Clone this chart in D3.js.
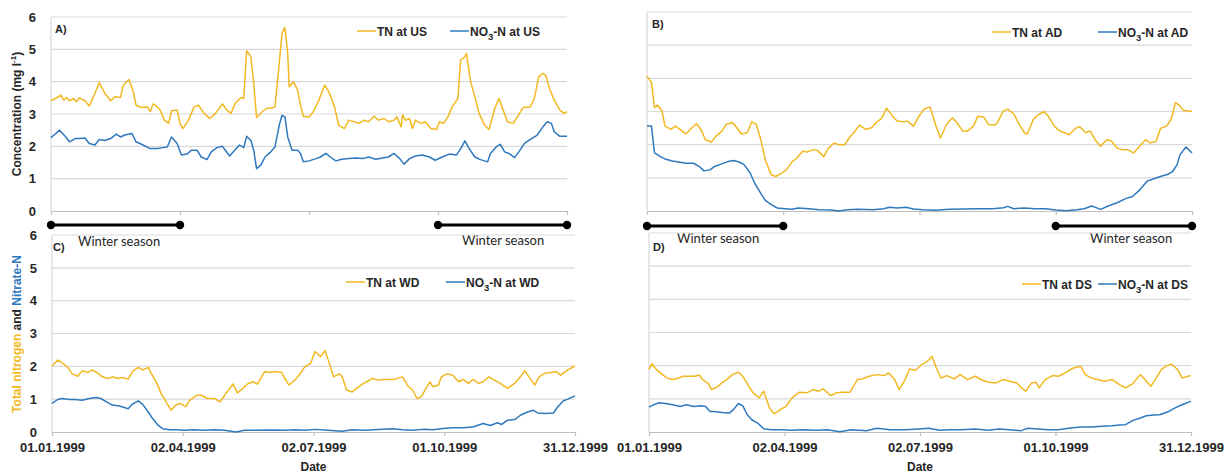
<!DOCTYPE html>
<html>
<head>
<meta charset="utf-8">
<script src="https://cdn.jsdelivr.net/npm/d3@7"></script>
<style>
  body { margin: 0; background: #fff; }
  svg { display: block; font-family: "Liberation Sans", Arial, sans-serif; }
</style>
</head>
<body>
<svg id="chart" width="1229" height="475"></svg>
<script>
// ---- data: daily nitrogen concentrations in 1999, [day of year offset, mg/l] ----
const yearStart = "01.01.1999";
const tickDates = ["01.01.1999", "02.04.1999", "02.07.1999", "01.10.1999", "31.12.1999"];
const yTicks = [0, 1, 2, 3, 4, 5, 6];
const winterSpans = [["01.01.1999", "02.04.1999"], ["01.10.1999", "31.12.1999"]];
const sites = ["US", "AD", "WD", "DS"];
const panelLetters = ["A)", "B)", "C)", "D)"];

const tnUS = [[0,3.41],[3,3.48],[7,3.58],[9,3.43],[11,3.51],[13,3.41],[16,3.48],[18,3.38],[20,3.50],[24,3.41],[27,3.25],[31,3.64],[34,3.97],[38,3.64],[42,3.41],[45,3.53],[49,3.51],[51,3.89],[55,4.07],[58,3.69],[60,3.27],[64,3.20],[68,3.22],[70,3.07],[72,3.31],[75,3.22],[77,3.12],[80,2.81],[83,2.71],[85,3.10],[89,3.12],[91,2.71],[93,2.55],[97,2.81],[101,3.22],[104,3.27],[108,3.02],[112,2.86],[116,3.02],[121,3.31],[124,3.12],[127,3.02],[130,3.33],[134,3.51],[136,3.48],[138,4.96],[141,4.77],[143,3.95],[145,2.89],[149,3.07],[152,3.17],[156,3.19],[158,3.22],[161,4.57],[163,5.50],[165,5.68],[167,4.87],[168,3.84],[171,4.00],[174,3.74],[176,3.27],[178,2.93],[182,2.91],[185,3.07],[189,3.43],[193,3.89],[196,3.69],[200,3.22],[203,2.65],[207,2.55],[210,2.81],[214,2.76],[217,2.71],[221,2.81],[224,2.76],[228,2.93],[231,2.81],[235,2.86],[238,2.76],[242,2.81],[244,2.91],[247,2.60],[248,2.97],[250,2.81],[253,2.86],[255,2.55],[257,2.81],[261,2.71],[264,2.76],[268,2.55],[272,2.52],[274,2.76],[277,2.71],[280,2.91],[283,3.22],[287,3.48],[289,4.67],[292,4.77],[293,4.88],[296,4.00],[299,3.53],[302,3.02],[306,2.65],[309,2.52],[313,3.17],[316,3.48],[319,3.12],[322,2.76],[326,2.71],[329,2.91],[333,3.20],[338,3.22],[341,3.48],[344,4.15],[347,4.26],[349,4.20],[352,3.74],[355,3.43],[359,3.12],[362,3.02],[364,3.07]];
const no3US = [[0,2.27],[3,2.38],[6,2.50],[10,2.31],[13,2.14],[17,2.24],[20,2.24],[24,2.26],[27,2.09],[31,2.04],[34,2.21],[38,2.18],[42,2.24],[46,2.38],[49,2.29],[52,2.35],[57,2.40],[60,2.14],[65,2.04],[70,1.93],[75,1.93],[79,1.96],[82,1.98],[85,2.29],[89,2.09],[92,1.73],[96,1.76],[99,1.88],[103,1.88],[106,1.67],[110,1.59],[113,1.83],[117,1.96],[121,2.00],[123,1.88],[126,1.70],[130,1.90],[133,2.04],[136,1.96],[138,2.31],[141,2.18],[143,1.88],[145,1.31],[148,1.42],[151,1.67],[155,1.83],[158,1.98],[161,2.65],[163,2.96],[165,2.91],[167,2.29],[170,1.88],[174,1.88],[176,1.78],[178,1.52],[182,1.55],[187,1.62],[190,1.67],[194,1.78],[197,1.67],[201,1.55],[205,1.60],[210,1.62],[215,1.64],[220,1.62],[224,1.67],[229,1.60],[234,1.64],[238,1.67],[242,1.78],[246,1.62],[249,1.45],[253,1.62],[257,1.70],[262,1.73],[267,1.67],[271,1.57],[276,1.67],[281,1.76],[286,1.73],[289,1.93],[292,2.17],[295,1.93],[299,1.67],[303,1.59],[308,1.52],[310,1.78],[314,1.98],[317,2.06],[320,1.83],[323,1.78],[327,1.65],[330,1.83],[334,2.09],[339,2.24],[343,2.35],[347,2.60],[350,2.76],[353,2.71],[355,2.45],[359,2.31],[364,2.31]];

const tnAD = [[0,4.06],[3,3.88],[5,3.12],[7,3.19],[10,3.02],[12,2.56],[16,2.46],[19,2.56],[23,2.43],[26,2.32],[30,2.51],[33,2.63],[36,2.46],[39,2.15],[43,2.08],[46,2.25],[50,2.41],[53,2.61],[57,2.67],[60,2.51],[63,2.32],[67,2.36],[70,2.69],[73,2.61],[76,2.15],[79,1.54],[83,1.09],[86,1.04],[90,1.14],[93,1.24],[97,1.49],[100,1.59],[104,1.80],[107,1.78],[111,1.85],[114,1.82],[118,1.64],[121,1.88],[125,2.05],[128,2.00],[132,2.00],[135,2.20],[139,2.41],[142,2.59],[146,2.46],[150,2.51],[153,2.66],[157,2.81],[160,3.10],[164,2.86],[167,2.71],[171,2.69],[174,2.71],[178,2.56],[181,2.81],[185,3.07],[189,3.14],[193,2.56],[196,2.20],[200,2.61],[204,2.81],[207,2.66],[211,2.41],[214,2.41],[218,2.56],[221,2.86],[225,2.83],[228,2.61],[232,2.59],[234,2.66],[238,3.02],[241,3.07],[245,2.93],[248,2.66],[252,2.36],[254,2.32],[258,2.76],[261,2.89],[265,3.00],[268,2.86],[272,2.56],[275,2.43],[279,2.36],[282,2.30],[286,2.49],[289,2.54],[293,2.36],[296,2.41],[300,2.10],[303,1.95],[307,2.15],[310,2.12],[314,1.90],[317,1.85],[321,1.85],[325,1.75],[329,1.95],[333,2.15],[336,2.05],[340,2.10],[343,2.49],[347,2.56],[350,2.76],[353,3.27],[356,3.17],[358,3.04],[364,3.00]];
const no3AD = [[0,2.56],[3,2.56],[5,1.75],[9,1.64],[12,1.57],[17,1.51],[22,1.47],[26,1.44],[31,1.44],[35,1.34],[38,1.21],[42,1.24],[45,1.34],[50,1.42],[54,1.49],[58,1.52],[62,1.47],[65,1.39],[69,1.14],[72,0.83],[76,0.53],[79,0.32],[83,0.19],[87,0.09],[92,0.07],[97,0.05],[101,0.09],[108,0.07],[115,0.04],[123,0.03],[128,0.00],[134,0.04],[141,0.05],[151,0.04],[158,0.07],[162,0.11],[167,0.09],[173,0.11],[178,0.06],[184,0.04],[193,0.02],[202,0.05],[212,0.06],[221,0.07],[231,0.07],[238,0.10],[241,0.14],[245,0.07],[252,0.09],[259,0.07],[266,0.07],[273,0.03],[280,0.01],[287,0.04],[292,0.07],[297,0.15],[303,0.05],[308,0.15],[314,0.25],[320,0.38],[324,0.43],[329,0.63],[334,0.90],[339,0.98],[343,1.04],[348,1.11],[351,1.19],[354,1.39],[356,1.70],[360,1.93],[364,1.75]];

const tnWD = [[0,2.01],[4,2.19],[7,2.11],[11,1.97],[14,1.77],[18,1.70],[21,1.87],[25,1.81],[28,1.89],[32,1.79],[35,1.68],[39,1.63],[42,1.68],[46,1.63],[49,1.66],[53,1.61],[56,1.84],[60,1.97],[63,1.89],[67,1.97],[69,1.79],[73,1.48],[76,1.17],[80,0.87],[83,0.66],[86,0.82],[89,0.87],[93,0.77],[96,0.97],[101,1.12],[104,1.12],[108,1.02],[113,1.02],[117,0.92],[121,1.17],[126,1.46],[129,1.19],[133,1.33],[136,1.46],[140,1.53],[143,1.46],[148,1.84],[151,1.81],[155,1.84],[160,1.81],[162,1.63],[165,1.43],[169,1.58],[173,1.79],[176,1.99],[180,2.09],[183,2.45],[187,2.30],[190,2.48],[193,2.09],[196,1.68],[200,1.77],[202,1.68],[205,1.28],[209,1.22],[212,1.33],[216,1.46],[219,1.53],[223,1.63],[227,1.58],[230,1.60],[235,1.60],[239,1.61],[244,1.68],[248,1.38],[251,1.28],[254,1.02],[257,1.07],[261,1.38],[263,1.53],[265,1.38],[269,1.43],[271,1.68],[275,1.77],[279,1.73],[283,1.53],[286,1.60],[290,1.48],[293,1.60],[297,1.48],[300,1.53],[304,1.68],[308,1.58],[312,1.48],[317,1.33],[322,1.48],[326,1.68],[329,1.87],[332,1.68],[336,1.43],[339,1.68],[343,1.79],[347,1.81],[351,1.84],[354,1.73],[359,1.89],[364,2.01]];
const no3WD = [[0,0.87],[4,0.99],[7,1.02],[12,0.99],[16,0.99],[21,0.97],[26,1.02],[31,1.05],[34,1.02],[38,0.92],[42,0.82],[47,0.79],[53,0.71],[56,0.85],[60,0.95],[63,0.85],[67,0.61],[70,0.41],[74,0.20],[77,0.10],[82,0.07],[87,0.07],[92,0.05],[99,0.07],[106,0.05],[113,0.07],[120,0.05],[128,0.00],[134,0.05],[143,0.05],[153,0.06],[162,0.05],[169,0.07],[176,0.05],[183,0.08],[192,0.05],[202,0.02],[209,0.07],[218,0.05],[230,0.08],[237,0.10],[244,0.07],[251,0.05],[258,0.08],[265,0.07],[272,0.11],[279,0.13],[286,0.13],[293,0.15],[300,0.26],[305,0.20],[310,0.28],[313,0.23],[317,0.36],[322,0.38],[326,0.51],[331,0.61],[335,0.66],[338,0.58],[343,0.56],[349,0.58],[352,0.77],[356,0.95],[359,1.00],[364,1.10]];

const tnDS = [[0,1.88],[2,2.06],[5,1.88],[9,1.73],[12,1.63],[16,1.58],[20,1.63],[23,1.68],[27,1.68],[30,1.68],[34,1.71],[36,1.58],[40,1.46],[42,1.28],[46,1.36],[49,1.48],[53,1.61],[56,1.73],[60,1.80],[63,1.68],[67,1.38],[70,1.18],[74,1.03],[77,1.23],[81,0.72],[84,0.55],[88,0.67],[92,0.77],[96,1.03],[101,1.20],[106,1.18],[110,1.28],[114,1.23],[117,1.30],[122,1.10],[126,1.18],[130,1.20],[135,1.20],[140,1.58],[143,1.60],[148,1.68],[153,1.73],[158,1.70],[161,1.78],[165,1.58],[168,1.28],[172,1.58],[175,1.90],[179,1.86],[183,2.03],[187,2.13],[190,2.28],[193,1.93],[196,1.63],[200,1.70],[205,1.60],[209,1.73],[214,1.58],[219,1.68],[224,1.56],[228,1.50],[233,1.48],[238,1.58],[242,1.53],[247,1.48],[251,1.30],[253,1.23],[257,1.48],[260,1.50],[262,1.33],[266,1.58],[271,1.70],[275,1.68],[280,1.80],[285,1.93],[290,1.98],[293,1.73],[297,1.63],[301,1.58],[306,1.53],[311,1.58],[316,1.43],[320,1.33],[325,1.46],[330,1.73],[333,1.58],[337,1.38],[340,1.58],[344,1.88],[347,1.98],[351,2.05],[355,1.88],[358,1.63],[362,1.68],[364,1.70]];
const no3DS = [[0,0.75],[3,0.82],[7,0.88],[11,0.86],[16,0.82],[21,0.77],[25,0.82],[30,0.77],[35,0.79],[38,0.77],[41,0.62],[44,0.62],[49,0.59],[54,0.57],[57,0.69],[60,0.86],[63,0.79],[66,0.52],[69,0.37],[73,0.27],[77,0.10],[82,0.07],[89,0.07],[96,0.05],[103,0.07],[113,0.05],[120,0.07],[128,0.01],[136,0.07],[146,0.04],[153,0.11],[162,0.07],[172,0.07],[181,0.09],[188,0.11],[195,0.05],[202,0.07],[209,0.07],[219,0.09],[228,0.05],[235,0.09],[242,0.07],[250,0.04],[254,0.11],[261,0.09],[268,0.07],[275,0.07],[283,0.12],[290,0.15],[297,0.15],[304,0.17],[311,0.19],[316,0.21],[320,0.22],[325,0.35],[330,0.42],[334,0.49],[339,0.51],[343,0.52],[349,0.62],[353,0.72],[358,0.82],[364,0.93]];

// ---- styling and layout ----
const TN_COLOR = "#F2B822";
const NO3_COLOR = "#2E78BE";
const GRID = "#d9d9d9";
const AXIS = "#bfbfbf";
const TEXT = "#262626";
const BOLD_FONT = "'Liberation Sans', Arial, sans-serif";
const PLAIN_FONT = "Lato, 'Liberation Sans', sans-serif";

const parseDay = d3.timeParse("%d.%m.%Y");
const fmtDay = d3.timeFormat("%d.%m.%Y");
const start = parseDay(yearStart);

const panels = [
  { tn: tnUS, no3: no3US, x0: 51,  x1: 567,  yTop: 17,  yBot: 211, leftLabels: true,  dateLabels: false,
    legend: { tn: 357, no3: 450, y: 31 }, letter: [55, 33], winter: { y: 225, text: [[78, 246], [462, 245]] } },
  { tn: tnAD, no3: no3AD, x0: 647, x1: 1192, yTop: 12,  yBot: 211, leftLabels: false, dateLabels: false,
    legend: { tn: 992, no3: 1098, y: 32 }, letter: [652, 28], winter: { y: 226, text: [[677, 243], [1090, 243]] } },
  { tn: tnWD, no3: no3WD, x0: 52,  x1: 575,  yTop: 235, yBot: 432, leftLabels: true,  dateLabels: true,
    legend: { tn: 346, no3: 446, y: 282 }, letter: [53, 251] },
  { tn: tnDS, no3: no3DS, x0: 649, x1: 1191, yTop: 233, yBot: 432, leftLabels: false, dateLabels: true,
    legend: { tn: 1022, no3: 1098, y: 284 }, letter: [653, 251] }
];

const svg = d3.select("#chart");
svg.append("rect").attr("width", 1229).attr("height", 475).attr("fill", "#fff");

panels.forEach((p, i) => {
  const site = sites[i];
  const x = d3.scaleTime().domain([parseDay(tickDates[0]), parseDay(tickDates[tickDates.length - 1])]).range([p.x0, p.x1]);
  const y = d3.scaleLinear().domain([0, 6]).range([p.yBot, p.yTop]);
  const g = svg.append("g");

  // horizontal gridlines
  g.selectAll("line.grid").data(yTicks.filter(v => v > 0)).join("line")
    .attr("x1", p.x0).attr("x2", p.x1)
    .attr("y1", d => y(d)).attr("y2", d => y(d))
    .attr("stroke", GRID).attr("stroke-width", 1.2);
  // vertical axis line
  g.append("line").attr("x1", p.x0).attr("x2", p.x0).attr("y1", p.yTop).attr("y2", p.yBot)
    .attr("stroke", GRID).attr("stroke-width", 1.2);

  // x axis with quarter ticks
  const xAxis = d3.axisBottom(x)
    .tickValues(tickDates.map(parseDay))
    .tickSize(4).tickSizeOuter(0).tickPadding(7)
    .tickFormat(p.dateLabels ? fmtDay : () => "");
  const ax = g.append("g").attr("transform", `translate(0,${p.yBot})`).call(xAxis);
  ax.select(".domain").attr("stroke", AXIS).attr("stroke-width", 1.2);
  ax.selectAll(".tick line").attr("stroke", AXIS).attr("stroke-width", 1.2);
  ax.selectAll(".tick text").attr("fill", TEXT).attr("font-size", 13).attr("font-weight", 700)
    .attr("font-family", BOLD_FONT);

  // y axis numbers
  if (p.leftLabels) {
    const yAxis = d3.axisLeft(y).tickValues(yTicks).tickSize(0).tickPadding(15).tickFormat(d3.format("d"));
    const ay = g.append("g").attr("transform", `translate(${p.x0},0)`).call(yAxis);
    ay.select(".domain").remove();
    ay.selectAll(".tick text").attr("fill", TEXT).attr("font-size", 13).attr("font-weight", 700)
      .attr("font-family", BOLD_FONT);
  }

  // series
  const line = d3.line()
    .x(d => x(d3.timeDay.offset(start, d[0])))
    .y(d => y(d[1]));
  g.append("path").datum(p.tn).attr("d", line).attr("fill", "none")
    .attr("stroke", TN_COLOR).attr("stroke-width", 1.5).attr("stroke-linejoin", "round");
  g.append("path").datum(p.no3).attr("d", line).attr("fill", "none")
    .attr("stroke", NO3_COLOR).attr("stroke-width", 1.5).attr("stroke-linejoin", "round");

  // panel letter
  g.append("text").attr("x", p.letter[0]).attr("y", p.letter[1]).attr("font-family", BOLD_FONT)
    .attr("font-size", 11).attr("font-weight", 700).attr("fill", TEXT).text(panelLetters[i]);

  // legend
  const lg = g.append("g").attr("font-family", BOLD_FONT).attr("font-size", 12)
    .attr("font-weight", 700).attr("fill", TEXT);
  lg.append("line").attr("x1", p.legend.tn).attr("x2", p.legend.tn + 19)
    .attr("y1", p.legend.y).attr("y2", p.legend.y).attr("stroke", TN_COLOR).attr("stroke-width", 1.5);
  lg.append("text").attr("x", p.legend.tn + 20).attr("y", p.legend.y + 4.5).text(`TN at ${site}`);
  lg.append("line").attr("x1", p.legend.no3).attr("x2", p.legend.no3 + 19)
    .attr("y1", p.legend.y).attr("y2", p.legend.y).attr("stroke", NO3_COLOR).attr("stroke-width", 1.5);
  const nt = lg.append("text").attr("x", p.legend.no3 + 20).attr("y", p.legend.y + 4.5);
  nt.append("tspan").text("NO");
  nt.append("tspan").attr("font-size", 9.5).attr("dy", 4).text("3");
  nt.append("tspan").attr("dy", -4).text(`-N at ${site}`);

  // winter season markers
  if (p.winter) {
    winterSpans.forEach((s, k) => {
      const a = x(parseDay(s[0])), b = x(parseDay(s[1]));
      g.append("line").attr("x1", a).attr("x2", b).attr("y1", p.winter.y).attr("y2", p.winter.y)
        .attr("stroke", "#000").attr("stroke-width", 3);
      [a, b].forEach(cx => g.append("circle").attr("cx", cx).attr("cy", p.winter.y).attr("r", 4.2).attr("fill", "#000"));
      g.append("text").attr("x", p.winter.text[k][0]).attr("y", p.winter.text[k][1])
        .attr("font-family", PLAIN_FONT).attr("font-size", 13).attr("fill", TEXT).text("Winter season");
    });
  }

  // "Date" axis title for the bottom row
  if (p.dateLabels) {
    g.append("text").attr("x", (p.x0 + p.x1) / 2).attr("y", 471).attr("text-anchor", "middle")
      .attr("font-family", BOLD_FONT).attr("font-size", 12).attr("font-weight", 700).attr("fill", TEXT).text("Date");
  }
});

// y axis titles
const t1 = svg.append("text").attr("transform", "translate(21,114) rotate(-90)").attr("font-family", BOLD_FONT)
  .attr("text-anchor", "middle").attr("font-size", 12).attr("font-weight", 700).attr("fill", TEXT);
t1.append("tspan").text("Concentration (mg l");
t1.append("tspan").attr("font-size", 8).attr("dy", -5).text("-1");
t1.append("tspan").attr("dy", 5).text(")");

const t2 = svg.append("text").attr("transform", "translate(21,334) rotate(-90)").attr("font-family", BOLD_FONT)
  .attr("text-anchor", "middle").attr("font-size", 12).attr("font-weight", 700);
t2.append("tspan").attr("fill", TN_COLOR).text("Total nitrogen");
t2.append("tspan").attr("fill", TEXT).text(" and ");
t2.append("tspan").attr("fill", NO3_COLOR).text("Nitrate-N");
</script>
</body>
</html>
